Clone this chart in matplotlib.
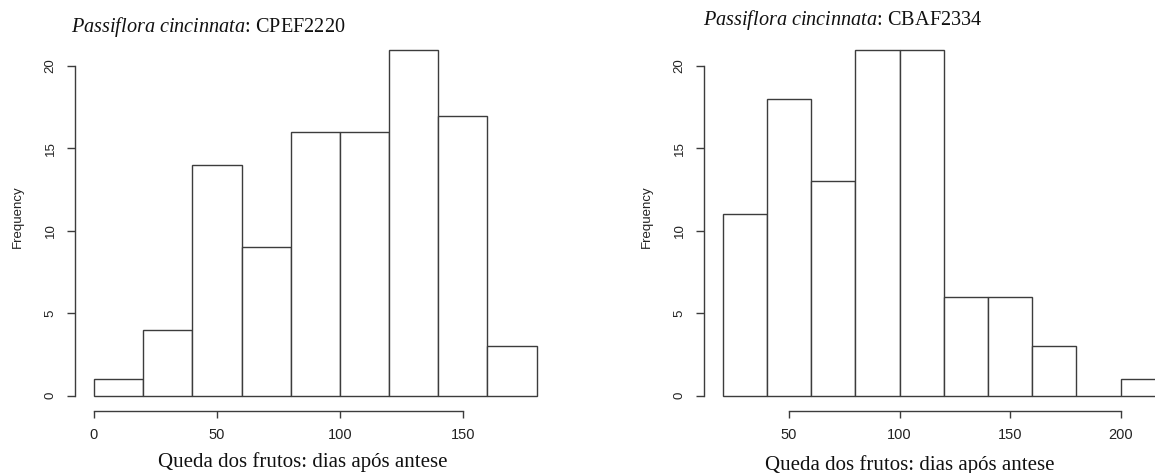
import matplotlib
matplotlib.use('Agg')
import matplotlib.pyplot as plt

bordas_cpef = [0, 20, 40, 60, 80, 100, 120, 140, 160, 180]
freq_cpef = [1, 4, 14, 9, 16, 16, 21, 17, 3]

bordas_cbaf = [20, 40, 60, 80, 100, 120, 140, 160, 180, 200, 220]
freq_cbaf = [11, 18, 13, 21, 21, 6, 6, 3, 0, 1]

ticks_x_cpef = [0, 50, 100, 150]
ticks_x_cbaf = [50, 100, 150, 200]
ticks_y = [0, 5, 10, 15, 20]

titulo_cpef = r'$\it{Passiflora\ cincinnata}$: CPEF2220'
titulo_cbaf = r'$\it{Passiflora\ cincinnata}$: CBAF2334'
rotulo_x = 'Queda dos frutos: dias após antese'
rotulo_y = 'Frequency'

plt.rcParams['mathtext.fontset'] = 'custom'
plt.rcParams['mathtext.rm'] = 'Liberation Serif'
plt.rcParams['mathtext.it'] = 'Liberation Serif:italic'

W, H = 1155, 473
cor = '#3c3c3c'

fig = plt.figure(figsize=(W / 100, H / 100), dpi=100)


def px_eixo(x0, x1, y0, y1):
    # caixa do eixo em pixels (y medido de cima)
    return [x0 / W, 1 - y1 / H, (x1 - x0) / W, (y1 - y0) / H]


def histograma(caixa, x_org, x_esc, bordas, freq, ticks_x, eixo_y_px, titulo, tit_px, lab_px, freq_px):
    ax = fig.add_axes(px_eixo(*caixa))
    y_org, y_esc = 395.7, 16.48
    ax.set_xlim((caixa[0] - x_org) / x_esc, (caixa[1] - x_org) / x_esc)
    ax.set_ylim((y_org - caixa[3]) / y_esc, (y_org - caixa[2]) / y_esc)
    larg = [b - a for a, b in zip(bordas[:-1], bordas[1:])]
    ax.bar(bordas[:-1], freq, width=larg, align='edge', facecolor='white',
           edgecolor=cor, linewidth=1.0)
    ax.patch.set_visible(False)
    for s in ['top', 'right']:
        ax.spines[s].set_visible(False)
    ax.spines['left'].set_position(('data', (eixo_y_px - x_org) / x_esc))
    ax.spines['left'].set_bounds(0, 20)
    ax.spines['bottom'].set_position(('data', (y_org - 411) / y_esc))
    ax.spines['bottom'].set_bounds(ticks_x[0], ticks_x[-1])
    for s in ['left', 'bottom']:
        ax.spines[s].set_color(cor)
        ax.spines[s].set_linewidth(1.0)
    ax.set_xticks(ticks_x)
    ax.set_yticks(ticks_y)
    ax.tick_params(axis='x', direction='out', length=5, width=1.0, color=cor,
                   labelsize=10.5, pad=7.5, labelcolor='#222222')
    ax.tick_params(axis='y', direction='out', length=5.8, width=1.0, color=cor,
                   labelsize=9.5, pad=7.5, labelcolor='#222222')
    for t in ax.get_xticklabels() + ax.get_yticklabels():
        t.set_family('Liberation Sans')
    for t in ax.get_yticklabels():
        t.set_rotation(90)
        t.set_va('center')
    fig.text(tit_px[0] / W, 1 - tit_px[1] / H, titulo, family='Liberation Serif',
             fontsize=14.6, ha='left', va='baseline', color='#111111')
    fig.text(lab_px[0] / W, 1 - lab_px[1] / H, rotulo_x, family='Liberation Serif',
             fontsize=15, ha='center', va='baseline', color='#111111')
    fig.text(freq_px[0] / W, 1 - freq_px[1] / H, rotulo_y, family='Liberation Sans',
             fontsize=9.5, rotation=90, ha='center', va='center', color='#222222')
    return ax


histograma((40, 560, 40, 440), 94.0, 2.459, bordas_cpef, freq_cpef, ticks_x_cpef, 75,
           titulo_cpef, (71, 32), (303, 467), (18, 217))
histograma((670, 1200, 40, 440), 678.4, 2.211, bordas_cbaf, freq_cbaf, ticks_x_cbaf, 704,
           titulo_cbaf, (703, 25), (910, 470), (647, 217))

fig.savefig('out.png', dpi=100, facecolor='white')
